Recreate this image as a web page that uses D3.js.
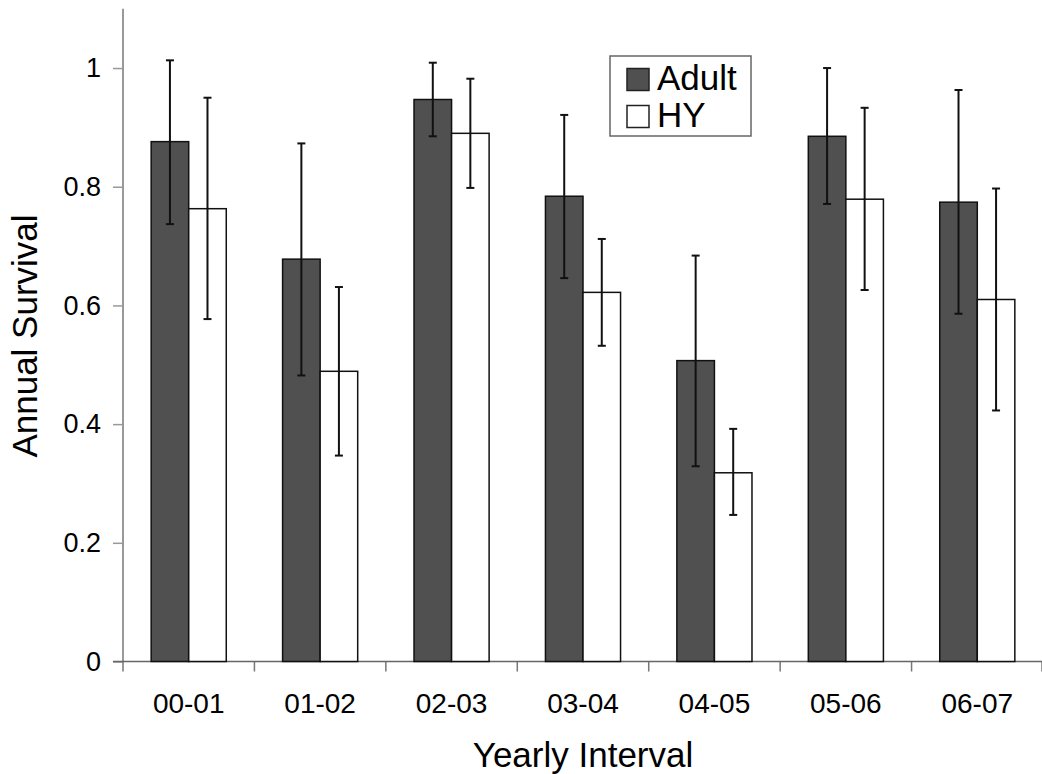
<!DOCTYPE html>
<html>
<head>
<meta charset="utf-8">
<script src="https://cdn.jsdelivr.net/npm/d3@7"></script>
<style>
  body { margin: 0; background: #fff; }
  svg { display: block; font-family: "Liberation Sans", Arial, sans-serif; }
</style>
</head>
<body>
<div id="chart"></div>
<script>
// yearly intervals
let intervals = ["00-01", "01-02", "02-03", "03-04", "04-05", "05-06", "06-07"]
let groups = ["Adult", "HY"]

// survival estimates
let adult = [0.876, 0.678, 0.947, 0.784, 0.507, 0.885, 0.774]
let adultLow = [0.737, 0.482, 0.885, 0.646, 0.329, 0.771, 0.586]
let adultHigh = [1.013, 0.873, 1.009, 0.921, 0.684, 1.000, 0.963]

let hy = [0.763, 0.489, 0.890, 0.622, 0.318, 0.779, 0.610]
let hyLow = [0.577, 0.347, 0.798, 0.532, 0.247, 0.626, 0.423]
let hyHigh = [0.950, 0.631, 0.982, 0.712, 0.392, 0.933, 0.797]

let yTicks = [0, 0.2, 0.4, 0.6, 0.8, 1]

let svgWidth = 1042
let svgHeight = 774

let svg = d3.select("#chart")
    .append("svg")
        .attr("width", svgWidth)
        .attr("height", svgHeight)

//scales
let x = d3.scaleBand()
    .domain(intervals)
    .range([123, 1043])

let xSub = d3.scaleBand()
    .domain(groups)
    .range([0, x.bandwidth()])
    .paddingOuter(0.75)

let y = d3.scaleLinear()
    .domain([0, 1.1])
    .range([661.5, 8.7])

let rows = intervals.map(function(d, i){
    return [
        {cat: d, group: "Adult", value: adult[i], low: adultLow[i], high: adultHigh[i]},
        {cat: d, group: "HY", value: hy[i], low: hyLow[i], high: hyHigh[i]}
    ]
}).flat()

let fill = {"Adult": "#505050", "HY": "#ffffff"}

// Y AXIS
let yAxis = svg.append("g")
    .attr("transform", "translate(123,0)")
    .call(d3.axisLeft(y).tickValues(yTicks).tickSize(10).tickPadding(12).tickFormat(d3.format("")))
yAxis.select(".domain").attr("stroke", "#999").attr("stroke-width", 2)
    .attr("d", `M0,${y(1.1)}V${y(0)}`)
yAxis.selectAll(".tick line").attr("stroke", "#999").attr("stroke-width", 1.5)
yAxis.selectAll(".tick text").attr("font-size", 27).attr("fill", "#000")
    .attr("font-family", "Liberation Sans, Arial, sans-serif")

// X AXIS (ticks between categories)
let xTicks = intervals.map(d => x(d)).concat([x.range()[1] - 1])
let xAxis = svg.append("g")
svg.append("line")
    .attr("x1", 113).attr("x2", 1042)
    .attr("y1", y(0)).attr("y2", y(0))
    .attr("stroke", "#666").attr("stroke-width", 1.5)
xAxis.selectAll("line")
    .data(xTicks)
    .join("line")
    .attr("x1", d => d).attr("x2", d => d)
    .attr("y1", y(0)).attr("y2", y(0) + 10)
    .attr("stroke", "#777").attr("stroke-width", 1.5)
xAxis.selectAll("text")
    .data(intervals)
    .join("text")
    .attr("x", d => x(d) + x.bandwidth() / 2)
    .attr("y", 713)
    .attr("text-anchor", "middle")
    .attr("font-size", 28)
    .attr("fill", "#000")
    .text(d => d)

// bars
svg.selectAll("rect.bar")
    .data(rows)
    .join("rect")
    .attr("class", "bar")
    .attr("x", d => x(d.cat) + xSub(d.group))
    .attr("y", d => y(d.value))
    .attr("width", xSub.bandwidth())
    .attr("height", d => y(0) - y(d.value))
    .attr("fill", d => fill[d.group])
    .attr("stroke", "#111")
    .attr("stroke-width", 1.5)

// error bars
let err = svg.append("g").attr("stroke", "#111").attr("stroke-width", 2)
err.selectAll("line.whisker")
    .data(rows)
    .join("line")
    .attr("class", "whisker")
    .attr("x1", d => x(d.cat) + xSub(d.group) + xSub.bandwidth() / 2)
    .attr("x2", d => x(d.cat) + xSub(d.group) + xSub.bandwidth() / 2)
    .attr("y1", d => y(d.low))
    .attr("y2", d => y(d.high))
err.selectAll("line.capHigh")
    .data(rows)
    .join("line")
    .attr("class", "capHigh")
    .attr("x1", d => x(d.cat) + xSub(d.group) + xSub.bandwidth() / 2 - 4)
    .attr("x2", d => x(d.cat) + xSub(d.group) + xSub.bandwidth() / 2 + 4)
    .attr("y1", d => y(d.high))
    .attr("y2", d => y(d.high))
err.selectAll("line.capLow")
    .data(rows)
    .join("line")
    .attr("class", "capLow")
    .attr("x1", d => x(d.cat) + xSub(d.group) + xSub.bandwidth() / 2 - 4)
    .attr("x2", d => x(d.cat) + xSub(d.group) + xSub.bandwidth() / 2 + 4)
    .attr("y1", d => y(d.low))
    .attr("y2", d => y(d.low))

// legend
let legend = svg.append("g")
legend.append("rect")
    .attr("x", 610).attr("y", 56)
    .attr("width", 141).attr("height", 80)
    .attr("fill", "#fff")
    .attr("stroke", "#666")
    .attr("stroke-width", 1.5)
groups.forEach(function(g, i){
    legend.append("rect")
        .attr("x", 627).attr("y", 68.5 + i * 37)
        .attr("width", 22).attr("height", 22)
        .attr("fill", fill[g])
        .attr("stroke", "#222")
        .attr("stroke-width", 1.5)
    legend.append("text")
        .attr("x", 657).attr("y", 90 + i * 36.5)
        .attr("font-size", 35)
        .attr("fill", "#000")
        .text(g)
})

// axis titles
svg.append("text")
    .attr("x", 583)
    .attr("y", 767)
    .attr("text-anchor", "middle")
    .attr("font-size", 35)
    .attr("fill", "#000")
    .text("Yearly Interval")

svg.append("text")
    .attr("transform", "translate(37,336) rotate(-90)")
    .attr("text-anchor", "middle")
    .attr("font-size", 35)
    .attr("fill", "#000")
    .text("Annual Survival")
</script>
</body>
</html>
